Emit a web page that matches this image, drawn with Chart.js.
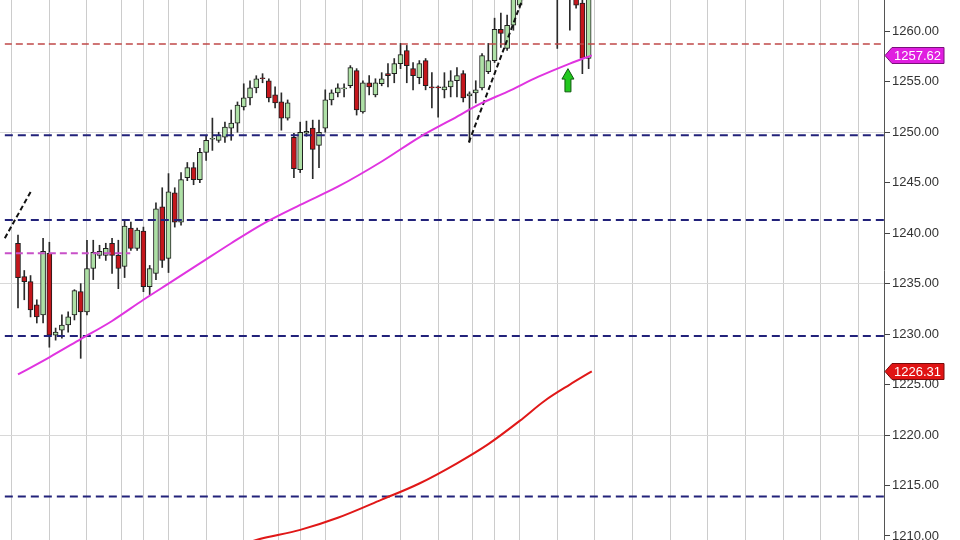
<!DOCTYPE html>
<html><head><meta charset="utf-8">
<script src="https://cdn.jsdelivr.net/npm/chart.js@4.4.1/dist/chart.umd.min.js"></script>
<style>html,body{margin:0;padding:0;background:#fff;overflow:hidden}#wrap{width:960px;height:540px}</style>
</head><body><div id="wrap"><canvas id="c" width="960" height="540"></canvas></div>
<script>
// ---- candle data (bar index 0..91) ----
const opens  = [1239.0,1235.7,1235.2,1232.9,1231.9,1238.0,1229.9,1230.4,1230.9,1231.9,1234.2,1232.2,1236.5,1237.8,1237.8,1239.0,1237.8,1236.7,1240.5,1238.5,1240.2,1234.7,1236.0,1242.6,1237.5,1244.0,1241.1,1245.5,1246.5,1245.3,1248.0,1249.3,1249.2,1249.5,1250.4,1250.9,1252.5,1253.4,1254.4,1255.4,1255.1,1253.7,1253.0,1251.4,1249.5,1246.3,1249.9,1250.4,1248.7,1250.4,1253.2,1253.9,1254.3,1254.6,1256.1,1252.0,1254.9,1253.7,1254.8,1255.8,1255.8,1256.8,1258.1,1256.3,1255.4,1257.1,1254.5,1254.5,1254.2,1254.5,1255.1,1255.8,1253.6,1253.9,1254.4,1256.0,1257.1,1260.2,1258.3,1260.6,1262.6,1265.2,1266.8,1265.6,1266.4,1267.6,1265.8,1264.4,1265.5,1264.9,1262.8,1257.3];
const highs  = [1239.8,1236.3,1235.8,1233.4,1239.5,1239.1,1230.6,1231.9,1232.2,1234.4,1235.0,1239.3,1239.3,1238.8,1239.0,1239.5,1239.3,1241.3,1241.1,1240.5,1240.6,1236.8,1243.0,1244.5,1245.9,1244.5,1246.0,1247.0,1247.0,1248.4,1249.7,1251.4,1250.0,1251.0,1252.2,1253.0,1254.8,1255.1,1255.6,1255.8,1255.3,1254.5,1253.9,1253.2,1249.9,1251.0,1251.1,1251.2,1251.2,1254.2,1254.2,1254.8,1254.8,1256.6,1256.3,1255.1,1255.6,1255.3,1255.9,1256.8,1257.3,1258.8,1258.6,1256.9,1257.1,1257.3,1255.9,1254.6,1255.9,1256.1,1256.4,1256.1,1254.0,1255.1,1257.8,1258.8,1261.3,1261.8,1261.6,1264.6,1266.0,1267.5,1268.0,1267.2,1268.4,1268.6,1267.0,1266.2,1266.4,1265.5,1263.9,1264.8];
const lows   = [1232.6,1233.4,1231.7,1231.1,1231.1,1228.7,1229.4,1229.6,1230.2,1231.4,1227.6,1231.9,1235.4,1237.5,1237.3,1236.0,1234.5,1235.6,1238.3,1238.3,1234.2,1233.9,1235.4,1236.6,1236.1,1240.6,1240.8,1245.2,1244.8,1245.0,1247.2,1248.2,1249.0,1249.0,1249.2,1250.0,1252.2,1252.7,1253.9,1254.9,1253.0,1252.4,1250.2,1251.2,1245.5,1246.0,1249.6,1245.4,1246.5,1250.0,1252.7,1253.5,1253.5,1254.4,1251.7,1251.9,1253.7,1253.5,1254.6,1254.5,1254.9,1256.3,1254.9,1254.2,1254.8,1254.2,1252.4,1251.5,1253.4,1253.5,1253.5,1253.0,1249.0,1252.9,1254.2,1255.8,1256.9,1258.4,1258.1,1260.1,1262.3,1264.4,1265.0,1264.3,1265.5,1265.2,1258.3,1263.6,1260.1,1262.3,1255.8,1256.3];
const closes = [1235.6,1235.2,1232.4,1231.7,1238.2,1229.9,1230.2,1230.9,1231.7,1234.3,1232.2,1236.5,1238.1,1238.2,1238.5,1237.8,1236.5,1240.7,1238.5,1240.3,1234.7,1236.5,1242.4,1237.3,1244.1,1241.1,1245.3,1246.5,1245.3,1248.0,1249.2,1249.4,1249.7,1250.5,1250.9,1252.7,1253.4,1254.4,1255.3,1255.3,1253.4,1252.9,1251.4,1252.9,1246.4,1250.0,1250.1,1248.3,1250.0,1253.2,1253.9,1254.4,1254.4,1256.4,1252.2,1254.9,1254.5,1254.9,1255.3,1255.6,1256.8,1257.7,1256.6,1255.6,1256.8,1254.6,1254.4,1254.4,1254.5,1255.1,1255.6,1253.4,1253.8,1254.2,1257.6,1257.1,1260.2,1259.8,1260.6,1263.6,1265.2,1266.8,1265.6,1266.4,1267.6,1265.8,1264.4,1265.5,1264.8,1262.6,1257.3,1264.0];

// ---- moving averages ----
const fastMaX = [0,5,10,15,20,24,29,34,39,45,51,58,64,69,74,78,83,88,91.5];
const fastMaY = [1226.0,1227.7,1229.5,1231.3,1233.4,1235.0,1237.0,1239.0,1240.9,1242.8,1244.6,1247.1,1249.5,1251.2,1252.9,1254.0,1255.5,1256.8,1257.62];
const slowMaX = [30,38,45,51,58,64,70,75,80,84,88,91.5];
const slowMaY = [1207.9,1209.6,1210.6,1211.8,1213.6,1215.2,1217.2,1219.1,1221.4,1223.4,1225.0,1226.31];

// ---- drawn levels / trend lines ----
const navyLevels = [1249.7,1241.3,1229.8,1213.9];
const redLevel = 1258.75;
const oldMaLevel = 1238.0;
const oldMaRange = [-2.1, 17.9];
const trendAX = [-2.1, 2.2];  const trendAY = [1239.5, 1244.3];
const trendBX = [71.9, 81.0]; const trendBY = [1249.0, 1264.1];
const levelRange = [-2.1, 138.2];

// ---- axes / grid ----
const yTicks = [1210,1215,1220,1225,1230,1235,1240,1245,1250,1255,1260];
const yGridShown = [1250,1235,1220];
const xGrid = [2,8,14,19,21,27,33,39,44,46,52,58,64,70,75,77,83,89,95,101,107,113,119,125,131,137];
const tags = [{value:1257.62, text:'1257.62', fill:'#e01ee0', stroke:'#7a107a'},
              {value:1226.31, text:'1226.31', fill:'#e01414', stroke:'#7a0a0a'}];
const arrowAt = {x:87.7, tip:1256.3, base:1254.0};

const idx = opens.map((_, i) => i);
const bodies = idx.map(i => ({x:i, y:[opens[i], closes[i]]}));
const wicks = idx.map(i => ({x:i, y:[lows[i], highs[i]]}));
const bodyColors = idx.map(i => closes[i] >= opens[i] ? '#aee0a6' : '#c4161c');
const seg = (xs, ys) => xs.map((x, k) => ({x, y: ys[k]}));
const hline = (v, r) => [{x:r[0], y:v}, {x:r[1], y:v}];

const datasets = [
  {type:'line', data: seg(slowMaX, slowMaY), borderColor:'#e01818', borderWidth:2, pointRadius:0, cubicInterpolationMode:'monotone', order:1},
  {type:'line', data: seg(fastMaX, fastMaY), borderColor:'#e034e0', borderWidth:2, pointRadius:0, cubicInterpolationMode:'monotone', order:1},
  {type:'line', data: hline(oldMaLevel, oldMaRange), borderColor:'#c850c8', borderWidth:2, borderDash:[7,4], pointRadius:0, order:2},
  {type:'line', data: seg(trendAX, trendAY), borderColor:'#111', borderWidth:2, borderDash:[5,3], pointRadius:0, order:2},
  {type:'line', data: seg(trendBX, trendBY), borderColor:'#111', borderWidth:2, borderDash:[5,3], pointRadius:0, order:2},
  {type:'line', data: hline(redLevel, levelRange), borderColor:'#c04848', borderWidth:1.5, borderDash:[7,4], pointRadius:0, order:3},
  ...navyLevels.map(v => ({type:'line', data: hline(v, levelRange), borderColor:'#22227a', borderWidth:2, borderDash:[8,5], pointRadius:0, order:3})),
  {type:'bar', data: bodies, backgroundColor: bodyColors, borderColor:'#1e1e1e', borderWidth:1, borderSkipped:false, barThickness:5, minBarLength:1, grouped:false, order:10},
  {type:'bar', data: wicks, backgroundColor:'#2a2a2a', borderWidth:0, barThickness:1, grouped:false, order:11}
];

const overlay = {
  id:'overlay',
  afterDatasetsDraw(chart) {
    const xs = chart.scales.x, ys = chart.scales.y, ctx = chart.ctx;
    const cx = xs.getPixelForValue(arrowAt.x), ty = ys.getPixelForValue(arrowAt.tip), by = ys.getPixelForValue(arrowAt.base);
    const hh = (by - ty) * 0.45;
    ctx.save();
    ctx.beginPath();
    ctx.moveTo(cx, ty); ctx.lineTo(cx + 6, ty + hh); ctx.lineTo(cx + 3, ty + hh); ctx.lineTo(cx + 3, by);
    ctx.lineTo(cx - 3, by); ctx.lineTo(cx - 3, ty + hh); ctx.lineTo(cx - 6, ty + hh); ctx.closePath();
    ctx.fillStyle = '#22c81e'; ctx.fill(); ctx.strokeStyle = '#0d5a0d'; ctx.lineWidth = 1; ctx.stroke();
    ctx.restore();
  },
  afterDraw(chart) {
    const ys = chart.scales.y, ctx = chart.ctx, left = chart.chartArea.right;
    ctx.save();
    tags.forEach(t => {
      const y = Math.round(ys.getPixelForValue(t.value)) + 0.5;
      ctx.beginPath();
      ctx.moveTo(left + 1, y); ctx.lineTo(left + 8, y - 8); ctx.lineTo(left + 60, y - 8);
      ctx.lineTo(left + 60, y + 8); ctx.lineTo(left + 8, y + 8); ctx.closePath();
      ctx.fillStyle = t.fill; ctx.fill(); ctx.strokeStyle = t.stroke; ctx.lineWidth = 1; ctx.stroke();
      ctx.fillStyle = '#fff'; ctx.font = '13px "Liberation Sans", Arial, sans-serif';
      ctx.textBaseline = 'middle'; ctx.textAlign = 'left';
      ctx.fillText(t.text, left + 10, y + 1);
    });
    ctx.restore();
  }
};

new Chart(document.getElementById('c'), {
  data: {datasets},
  options: {
    responsive:false, animation:false, devicePixelRatio:1,
    layout:{padding:0},
    plugins:{legend:{display:false}, tooltip:{enabled:false}},
    scales:{
      x:{type:'linear', min:-2.87, max:138.1, offset:false,
         grid:{color:'#cccccc', lineWidth:1, drawTicks:false}, border:{display:false},
         ticks:{display:false},
         afterBuildTicks: s => { s.ticks = xGrid.map(v => ({value:v})); },
         afterFit: s => { s.height = 0; s.paddingLeft = 0; s.paddingRight = 0; }},
      y:{position:'right', min:1209.6, max:1263.1,
         afterBuildTicks: s => { s.ticks = yTicks.map(v => ({value:v})); },
         ticks:{callback: v => Number(v).toFixed(2), font:{family:'"Liberation Sans", Arial, sans-serif', size:13}, color:'#333', padding:2, autoSkip:false},
         grid:{color: c => (c.tick && yGridShown.includes(c.tick.value)) ? '#d8d8d8' : 'rgba(0,0,0,0)', tickColor:'#444', tickLength:6, drawTicks:true},
         border:{display:true, color:'#555', width:1},
         afterFit: s => { s.width = 76; s.paddingTop = 0; s.paddingBottom = 0; }}
    }
  },
  plugins:[overlay]
});
</script></body></html>
